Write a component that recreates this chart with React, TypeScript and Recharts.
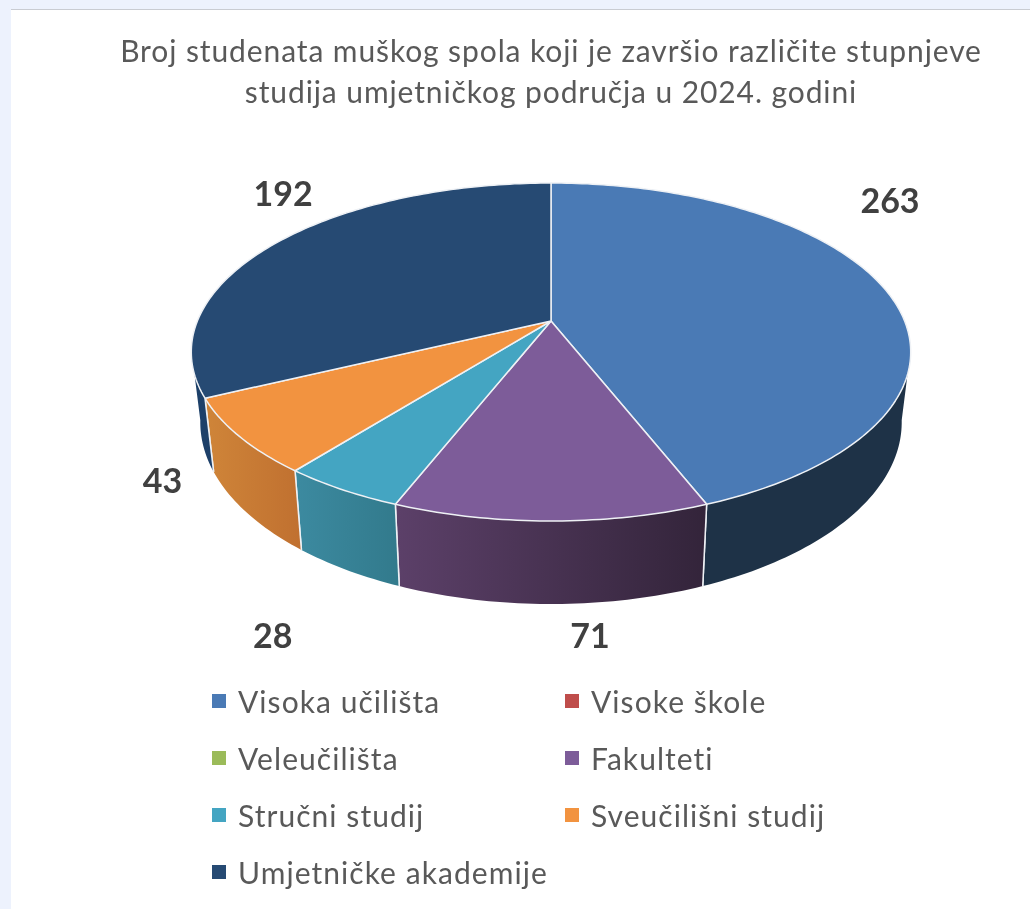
import { PieChart, Pie, Legend } from 'recharts'

const categories = ['Visoka učilišta', 'Visoke škole', 'Veleučilišta', 'Fakulteti', 'Stručni studij', 'Sveučilišni studij', 'Umjetničke akademije']
const studentCounts = [263, 0, 0, 71, 28, 43, 192]
const topColors = ['#4a7ab5', '#bf4d4b', '#9bbb59', '#7d5c99', '#44a5c2', '#f29340', '#264a73']
// left and right shade of the side wall of each slice
const wallColors = [
    ['#1e3247', '#1e3247'],
    ['#7f2f2d', '#7f2f2d'],
    ['#667b3a', '#667b3a'],
    ['#5c4069', '#33243a'],
    ['#3c8aa0', '#327a8c'],
    ['#cf8539', '#c07030'],
    ['#1d4069', '#1d4069'],
]
// label offset from the rim point of the slice
const labelOffsets = [[3, -92], [0, 0], [0, 0], [39, 114], [-69, 145], [-77, 43], [5, -49]]

const titleLines = ['Broj studenata muškog spola koji je završio različite stupnjeve', 'studija umjetničkog područja u 2024. godini']

const tableData = categories.map((name, i) => ({ name, value: studentCounts[i], fill: topColors[i], index: i }))

const FONT = 'Lato, sans-serif'
const EDGE = '#eef1f5'

// perspective of the tilted disc
const PERSPECTIVE = 0.1834
const SQUASH_X = 0.985
const SQUASH_Y = 0.4549
const WALL_HEIGHT = 67.8
const WALL_INSET = 0.975
const WALL_TOP_FROM = 108
const WALL_TOP_TO = 252
const WALL_BOTTOM_FROM = 100
const WALL_BOTTOM_TO = 260

// t is the clockwise angle from 12 o'clock, in degrees
function rim(cx: number, cy: number, r: number, t: number) {
    const a = (t * Math.PI) / 180
    const den = 1 + PERSPECTIVE * Math.cos(a)
    return {
        x: cx + (r * SQUASH_X * Math.sin(a)) / den,
        y: cy - (r * SQUASH_Y * Math.cos(a)) / den,
    }
}

function rimBottom(cx: number, cy: number, r: number, t: number) {
    const a = (t * Math.PI) / 180
    const den = 1 + PERSPECTIVE * Math.cos(a)
    const p = rim(cx, cy, r, t)
    return { x: cx + (p.x - cx) * WALL_INSET, y: p.y + WALL_HEIGHT / den }
}

function samples(from: number, to: number) {
    const out: number[] = []
    const n = Math.max(2, Math.ceil(Math.abs(to - from)))
    for (let i = 0; i <= n; i++) out.push(from + ((to - from) * i) / n)
    return out
}

const toPath = (pts: { x: number; y: number }[]) => pts.map((p) => `${p.x.toFixed(2)},${p.y.toFixed(2)}`).join(' L')

function Slice(props: any) {
    const { cx, cy, outerRadius, startAngle, endAngle, fill, index } = props
    if (Math.abs(startAngle - endAngle) < 0.01) return null
    const t0 = 90 - startAngle
    const t1 = 90 - endAngle
    const top = samples(t0, t1).map((t) => rim(cx, cy, outerRadius, t))

    const from = Math.max(t0, WALL_BOTTOM_FROM)
    const to = Math.min(t1, WALL_BOTTOM_TO)
    let wall = null
    if (from < to) {
        const upper = samples(Math.max(t0, WALL_TOP_FROM), Math.min(t1, WALL_TOP_TO)).map((t) => rim(cx, cy, outerRadius, t))
        const lower = samples(to, from).map((t) => rimBottom(cx, cy, outerRadius, t))
        const gradId = `wall-${index}`
        const edges = [t0, t1].filter((t) => t > WALL_TOP_FROM && t < WALL_TOP_TO)
        wall = (
            <g>
                <defs>
                    <linearGradient id={gradId} x1="0" y1="0" x2="1" y2="0">
                        <stop offset="0%" stopColor={wallColors[index][0]} />
                        <stop offset="100%" stopColor={wallColors[index][1]} />
                    </linearGradient>
                </defs>
                <path d={`M${toPath(upper)} L${toPath(lower)} Z`} fill={`url(#${gradId})`} />
                {edges.map((t) => {
                    const a = rim(cx, cy, outerRadius, t)
                    const b = rimBottom(cx, cy, outerRadius, t)
                    return <line key={t} x1={a.x} y1={a.y} x2={b.x} y2={b.y} stroke={EDGE} strokeWidth={1.5} />
                })}
            </g>
        )
    }

    return (
        <g>
            {wall}
            <path d={`M${cx},${cy} L${toPath(top)} Z`} fill={fill} stroke={EDGE} strokeWidth={1.5} strokeLinejoin="round" />
        </g>
    )
}

function renderLabel(props: any) {
    const { cx, cy, outerRadius, midAngle, value, index } = props
    if (!value) return <g />
    const p = rim(cx, cy, outerRadius, 90 - midAngle)
    const [dx, dy] = labelOffsets[index]
    return (
        <text x={p.x + dx} y={p.y + dy} textAnchor="middle" dominantBaseline="central" fill="#404040" fontFamily={FONT} fontWeight={700} fontSize={34}>
            {value}
        </text>
    )
}

function renderLegend(props: any) {
    const { payload } = props
    return (
        <div style={{ position: 'absolute', left: 212, top: 672, display: 'grid', gridTemplateColumns: '353px auto', gridAutoRows: '57px' }}>
            {payload.map((entry: any) => (
                <div key={entry.value} style={{ display: 'flex', alignItems: 'center', fontFamily: FONT, fontSize: 30, letterSpacing: 1.05, color: '#595959', whiteSpace: 'nowrap' }}>
                    <span style={{ display: 'inline-block', width: 14, height: 14, background: entry.color, marginRight: 12 }} />
                    {entry.value}
                </div>
            ))}
        </div>
    )
}

export default function App() {
    return (
        <div style={{ position: 'absolute', left: 0, top: 0, width: 1030, height: 909, background: '#edf2fd', overflow: 'hidden' }}>
            <div style={{ position: 'absolute', left: 11, top: 9, width: 1019, height: 899, background: '#fff', borderTop: '1px solid #c9ccd2', filter: 'blur(0.5px)' }} />
            <div style={{ position: 'absolute', left: 0, top: 0, filter: 'blur(0.6px)' }}>
                <div style={{ position: 'absolute', left: 51, top: 30, width: 1000, textAlign: 'center', fontFamily: FONT, fontSize: 30, letterSpacing: 0.9, lineHeight: '41px', color: '#595959', whiteSpace: 'nowrap' }}>
                    {titleLines.map((line) => (
                        <div key={line}>{line}</div>
                    ))}
                </div>
                <PieChart width={1030} height={909} margin={{ top: 0, right: 0, bottom: 0, left: 0 }}>
                    <Pie
                        data={tableData}
                        dataKey="value"
                        nameKey="name"
                        cx={551}
                        cy={321}
                        outerRadius={359}
                        startAngle={90}
                        endAngle={-270}
                        stroke="none"
                        shape={Slice}
                        label={renderLabel}
                        labelLine={false}
                        isAnimationActive={false}
                    />
                    <Legend content={renderLegend} itemSorter={null} wrapperStyle={{ position: 'absolute', left: 0, top: 0, width: 1030, height: 0 }} />
                </PieChart>
            </div>
        </div>
    )
}
